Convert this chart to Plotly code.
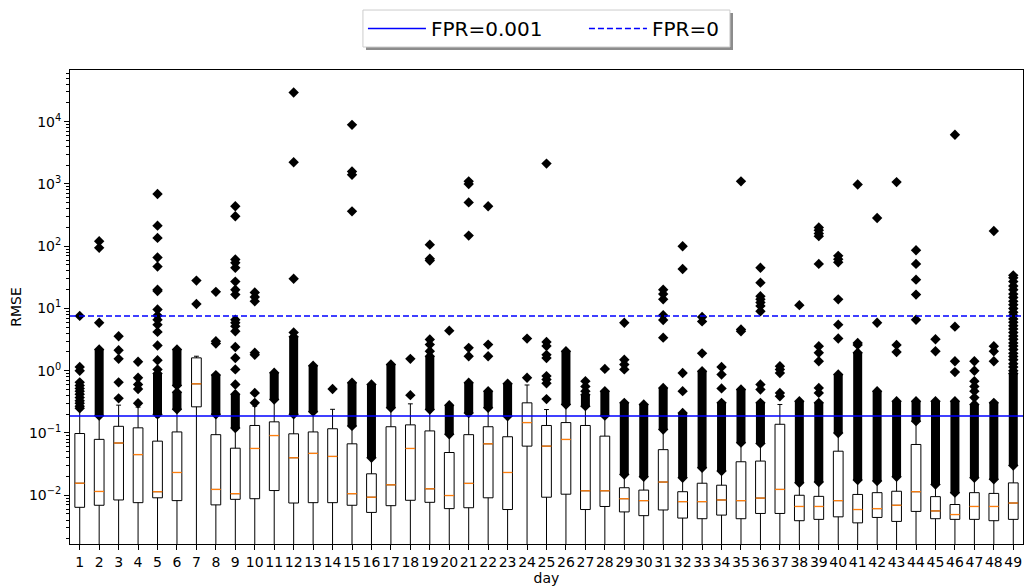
import plotly.graph_objects as go

# Daily RMSE distributions (box statistics per day)
days = list(range(1, 50))

q1 = [0.0064, 0.0069, 0.0084, 0.0076, 0.0091, 0.0082, 0.263, 0.0070, 0.0086, 0.0088,
      0.0119, 0.0075, 0.0076, 0.0076, 0.0069, 0.0053, 0.0068, 0.0083, 0.0077, 0.0061,
      0.0063, 0.0091, 0.0059, 0.0615, 0.0093, 0.0104, 0.0059, 0.0066, 0.0054, 0.0047,
      0.0058, 0.0043, 0.0042, 0.0048, 0.0042, 0.0051, 0.0051, 0.0039, 0.0041, 0.0045,
      0.0036, 0.0044, 0.0038, 0.0055, 0.0042, 0.0041, 0.0041, 0.0039, 0.0041]

median = [0.0156, 0.0115, 0.069, 0.045, 0.0114, 0.0232, 0.616, 0.0124, 0.0106, 0.0564,
          0.091, 0.040, 0.047, 0.042, 0.0106, 0.0093, 0.0147, 0.0564, 0.0127, 0.0099,
          0.0155, 0.067, 0.0232, 0.147, 0.0615, 0.0787, 0.0118, 0.0118, 0.0088, 0.0082,
          0.0163, 0.0079, 0.0079, 0.0084, 0.0082, 0.0090, 0.0124, 0.0066, 0.0066, 0.0082,
          0.0059, 0.0061, 0.0069, 0.0114, 0.0056, 0.0049, 0.0066, 0.0066, 0.0075]

q3 = [0.098, 0.079, 0.128, 0.121, 0.074, 0.104, 1.61, 0.094, 0.057, 0.132,
      0.151, 0.097, 0.104, 0.117, 0.067, 0.0221, 0.126, 0.135, 0.108, 0.0486,
      0.094, 0.126, 0.087, 0.305, 0.132, 0.147, 0.132, 0.089, 0.0132, 0.0121,
      0.054, 0.0114, 0.0156, 0.0145, 0.0345, 0.0354, 0.138, 0.0100, 0.0096, 0.051,
      0.0103, 0.0110, 0.0116, 0.0654, 0.0095, 0.0071, 0.0110, 0.0107, 0.0158]

whisker_hi = [0.23, 0.18, 0.28, 0.26, 0.18, 0.23, 1.71, 0.19, 0.11, 0.27,
              0.33, 0.19, 0.21, 0.24, 0.125, 0.039, 0.25, 0.294, 0.23, 0.093,
              0.20, 0.245, 0.18, 0.59, 0.238, 0.28, 0.26, 0.185, 0.021, 0.019,
              0.11, 0.0185, 0.027, 0.024, 0.068, 0.066, 0.287, 0.0155, 0.016, 0.097,
              0.017, 0.0165, 0.0193, 0.15, 0.0145, 0.0107, 0.0186, 0.0175, 0.029]

whisker_lo = [0.001] * 49

# Ranges packed so densely with outliers that the markers merge into a column
dense_outliers = [
    [], [(0.19, 2.2)], [], [], [(0.2, 0.9)], [(0.24, 0.45), (0.58, 2.2)], [],
    [(0.2, 0.85)], [(0.12, 0.42)], [], [(0.345, 0.93)], [(0.2, 3.5)], [(0.22, 1.2)], [],
    [(0.13, 0.64)], [(0.040, 0.60)], [(0.254, 1.26)], [], [(0.238, 1.71)], [(0.095, 0.28)],
    [(0.21, 0.64)], [(0.254, 0.47)], [(0.186, 0.62)], [], [], [(0.287, 2.06)], [(0.27, 0.41)],
    [(0.19, 0.47)], [(0.0216, 0.305)], [(0.0198, 0.287)], [(0.114, 0.53)], [(0.0191, 0.21)],
    [(0.0276, 0.98)], [(0.0245, 0.305)], [(0.07, 0.5)], [(0.068, 0.305)], [],
    [(0.0159, 0.324)], [(0.0163, 0.305)], [(0.1, 0.87)], [(0.0175, 1.94)], [(0.0169, 0.47)],
    [(0.0198, 0.324)], [(0.155, 0.324)], [(0.0149, 0.324)], [(0.011, 0.324)],
    [(0.0191, 0.287)], [(0.018, 0.305)], [(0.030, 0.9)],
]

# Individually visible outliers
outliers = [
    [0.25, 0.27, 0.3, 0.33, 0.37, 0.42, 0.47, 0.52, 0.58, 0.65, 1.0, 1.15, 7.6],
    [5.9, 94, 120],
    [0.36, 0.65, 1.55, 2.13, 3.58],
    [0.30, 0.51, 0.6, 0.77, 1.39],
    [1.05, 1.47, 2.54, 4.2, 5.5, 6.6, 7.7, 9.6, 19, 20, 47, 66, 136, 214, 690],
    [],
    [11.8, 28],
    [2.73, 2.97, 18.5],
    [0.6, 1.05, 1.6, 2.4, 4.3, 5.2, 5.9, 6.6, 16.7, 20, 27, 45, 54, 61, 302, 437],
    [0.305, 0.44, 1.8, 1.94, 13, 15.3, 18],
    [],
    [4.1, 30, 2230, 29500],
    [],
    [0.51],
    [363, 1400, 1580, 8900],
    [],
    [],
    [0.405, 1.55],
    [2.06, 2.63, 3.17, 59, 63, 106],
    [4.4],
    [1.71, 2.33, 148, 505, 1000, 1100],
    [1.71, 2.63, 437],
    [],
    [0.77, 3.28],
    [0.35, 0.63, 0.72, 0.82, 1.6, 1.8, 2.5, 2.9, 2120],
    [],
    [0.47, 0.56, 0.68],
    [1.07],
    [1.05, 1.26, 1.5, 5.9],
    [],
    [3.4, 6.5, 7.8, 14, 17, 20],
    [0.47, 0.92, 43, 100],
    [1.9, 6.2, 7.3],
    [0.52, 0.87, 1.15],
    [4.3, 4.6, 1100],
    [0.5, 0.6, 9, 11, 12.5, 14, 15.7, 26, 45],
    [0.39, 0.44, 0.92, 1.05, 1.18],
    [11.3],
    [0.44, 0.53, 1.42, 1.94, 2.47, 52, 145, 160, 180, 200],
    [3.3, 5.5, 14, 55, 62, 70],
    [2.6, 2.8, 980],
    [5.9, 283],
    [2.0, 2.6, 1070],
    [6.6, 16.7, 29, 52, 86],
    [2.06, 3.2],
    [0.95, 1.42, 5.1, 6150],
    [0.37, 0.47, 0.56, 0.68, 1.0, 1.42],
    [1.42, 2.06, 2.47, 175],
    [1.0, 1.15, 1.3, 1.5, 1.7, 1.9, 2.2, 2.5, 2.8, 3.2, 3.6, 4.1, 4.7, 5.3, 6.0, 6.8,
     7.7, 8.7, 10, 11.5, 13, 15, 17, 20, 23, 27, 31, 34],
]

# Detection thresholds
thr_fpr_001 = 0.187
thr_fpr_0 = 7.6

# y tick labels
y_tickvals = [0.01, 0.1, 1, 10, 100, 1000, 10000]
y_ticktext = ["10<sup>\u22122</sup>", "10<sup>\u22121</sup>", "10<sup>0</sup>",
              "10<sup>1</sup>", "10<sup>2</sup>", "10<sup>3</sup>", "10<sup>4</sup>"]

BOX_W = 0.5
FONT = "DejaVu Sans"

fig = go.Figure()

fig.add_trace(go.Box(
    x=days, q1=q1, median=median, q3=q3,
    lowerfence=whisker_lo, upperfence=whisker_hi,
    width=BOX_W, whiskerwidth=0.5, boxpoints=False,
    line=dict(color="black", width=1), fillcolor="rgba(0,0,0,0)",
    showlegend=False, hoverinfo="skip",
))

# orange median bars drawn over the box
mx, my = [], []
for d, m in zip(days, median):
    mx += [d - BOX_W / 2, d + BOX_W / 2, None]
    my += [m, m, None]
fig.add_trace(go.Scatter(x=mx, y=my, mode="lines",
                         line=dict(color="#ff7f0e", width=1.3),
                         showlegend=False, hoverinfo="skip"))

# dense outlier columns
bx, by = [], []
for d, spans in zip(days, dense_outliers):
    for lo, hi in spans:
        bx += [d, d, None]
        by += [lo, hi, None]
fig.add_trace(go.Scatter(x=bx, y=by, mode="lines+markers",
                         line=dict(color="black", width=9),
                         marker=dict(symbol="diamond", size=8, color="black"),
                         showlegend=False, hoverinfo="skip"))

# individual outliers
ox, oy = [], []
for d, vals in zip(days, outliers):
    ox += [d] * len(vals)
    oy += vals
fig.add_trace(go.Scatter(x=ox, y=oy, mode="markers",
                         marker=dict(symbol="diamond", size=8, color="black"),
                         showlegend=False, hoverinfo="skip"))

# threshold lines
fig.add_trace(go.Scatter(x=[0.5, 49.5], y=[thr_fpr_001] * 2, mode="lines",
                         name="FPR=0.001", line=dict(color="blue", width=1.5)))
fig.add_trace(go.Scatter(x=[0.5, 49.5], y=[thr_fpr_0] * 2, mode="lines",
                         name="FPR=0", line=dict(color="blue", width=1.5, dash="6px,3px")))

# legend frame with a drop shadow
fig.add_shape(type="rect", xref="paper", yref="paper",
              x0=0.3106, x1=0.6957, y0=1.0422, y1=1.1202,
              line=dict(width=0), fillcolor="rgba(0,0,0,0.45)", layer="above")
fig.add_shape(type="rect", xref="paper", yref="paper",
              x0=0.3074, x1=0.6925, y0=1.0485, y1=1.1265,
              line=dict(width=1, color="#cccccc"), fillcolor="white", layer="above")

fig.update_layout(
    width=1024, height=587,
    margin=dict(l=70, r=1, t=70, b=43),
    paper_bgcolor="white", plot_bgcolor="white",
    font=dict(family=FONT, size=14, color="black"),
    legend=dict(orientation="h", x=0.3074, xanchor="left", y=1.0875, yanchor="middle",
                font=dict(size=20, family=FONT), bgcolor="rgba(0,0,0,0)",
                borderwidth=0, itemwidth=58,
                entrywidth=148, entrywidthmode="pixels"),
)

fig.update_xaxes(
    range=[0.5, 49.5], tickmode="array", tickvals=days, ticktext=[str(d) for d in days],
    tickangle=0, ticks="outside", ticklen=5, tickcolor="black", showgrid=False,
    zeroline=False, showline=True, linecolor="black", linewidth=1, mirror=True,
    title=dict(text="day", standoff=2, font=dict(size=14)),
    tickfont=dict(size=14),
)

fig.update_yaxes(
    type="log", range=[-2.783, 4.83], tickmode="array",
    tickvals=y_tickvals, ticktext=y_ticktext,
    ticks="outside", ticklen=5, tickcolor="black", showgrid=False, zeroline=False,
    showline=True, linecolor="black", linewidth=1, mirror=True,
    minor=dict(ticks="outside", ticklen=3, tickcolor="black", dtick="D1", showgrid=False),
    title=dict(text="RMSE", standoff=4, font=dict(size=14)),
    tickfont=dict(size=14),
)

fig.write_html("out.html")
